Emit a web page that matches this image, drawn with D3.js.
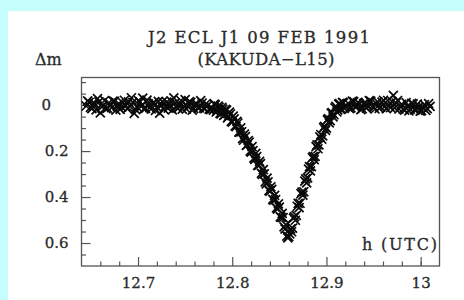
<!DOCTYPE html>
<html>
<head>
<meta charset="utf-8">
<script src="https://cdn.jsdelivr.net/npm/d3@7"></script>
<style>
  html, body { margin: 0; padding: 0; background: #c6fdfd; }
  svg { display: block; }
  text { font-family: "DejaVu Serif", serif; fill: #2a2a2a; stroke: #2a2a2a; stroke-width: 0.3px; }
</style>
</head>
<body>
<div id="chart"></div>
<script>
// light curve (hours UTC, delta magnitude)
var hours = [
  12.645, 12.648, 12.651, 12.654, 12.657, 12.660, 12.663, 12.666, 12.669, 12.672,
  12.675, 12.678, 12.681, 12.684, 12.687, 12.690, 12.693, 12.696, 12.699, 12.702,
  12.705, 12.708, 12.711, 12.714, 12.717, 12.720, 12.723, 12.726, 12.729, 12.732,
  12.735, 12.738, 12.741, 12.744, 12.747, 12.750, 12.753, 12.756, 12.759, 12.762,
  12.765, 12.768, 12.771, 12.774, 12.777,
  12.780, 12.782, 12.784, 12.786, 12.788, 12.790, 12.792, 12.794, 12.796, 12.798,
  12.800, 12.802, 12.804, 12.806, 12.808, 12.810, 12.812, 12.814, 12.816, 12.818,
  12.820, 12.822, 12.824, 12.826, 12.828, 12.830, 12.832, 12.834, 12.836, 12.838,
  12.840, 12.842, 12.844, 12.846, 12.848, 12.850, 12.852, 12.854, 12.856, 12.858,
  12.860, 12.862, 12.864, 12.866, 12.868, 12.870, 12.872, 12.874, 12.876, 12.878,
  12.880, 12.882, 12.884, 12.886, 12.888, 12.890, 12.892, 12.894, 12.896, 12.898,
  12.900, 12.902, 12.904, 12.906, 12.908, 12.910, 12.912, 12.914, 12.916, 12.918,
  12.920,
  12.923, 12.926, 12.929, 12.932, 12.935, 12.938, 12.941, 12.944, 12.947, 12.950,
  12.953, 12.956, 12.959, 12.962, 12.965, 12.968, 12.971, 12.974, 12.977, 12.980,
  12.983, 12.986, 12.989, 12.992, 12.995, 12.998, 13.001, 13.004, 13.007, 13.010
];
var deltaM = [
  0.004, -0.012, 0.015, -0.006, -0.028, 0.034, 0.002, 0.016, -0.010, 0.011,
  -0.016, 0.006, 0.019, -0.009, 0.003, -0.014, -0.032, 0.036, 0.008, -0.013,
  -0.030, 0.014, -0.005, 0.017, -0.011, 0.009, 0.035, -0.015, 0.004, 0.013,
  -0.018, -0.031, 0.010, -0.004, 0.018, -0.024, 0.007, -0.012, 0.015, -0.006,
  0.012, -0.009, 0.016, 0.001, 0.020,
  0.022, -0.001, 0.025, 0.009, 0.038, 0.018, 0.042, 0.022, 0.049, 0.038,
  0.074, 0.060, 0.094, 0.078, 0.118, 0.116, 0.153, 0.137, 0.172, 0.161,
  0.205, 0.198, 0.236, 0.224, 0.262, 0.255, 0.302, 0.299, 0.343, 0.334,
  0.374, 0.367, 0.413, 0.411, 0.453, 0.444, 0.489, 0.490, 0.539, 0.570,
  0.572, 0.539, 0.535, 0.485, 0.480, 0.428, 0.427, 0.379, 0.377, 0.321,
  0.317, 0.268, 0.268, 0.224, 0.223, 0.173, 0.173, 0.128, 0.134, 0.093,
  0.100, 0.059, 0.068, 0.033, 0.042, 0.006, 0.022, -0.006, 0.017, -0.010,
  0.008,
  -0.008, 0.012, -0.015, 0.006, -0.004, 0.016, -0.011, 0.003, -0.017, 0.010,
  -0.006, 0.014, -0.013, 0.005, -0.020, 0.011, -0.042, -0.009, 0.017, -0.003,
  0.022, 0.004, 0.018, -0.005, 0.020, 0.008, 0.024, -0.002, 0.015, 0.006
];
// the in-between exposures
var hours2 = [
  12.6465, 12.6495, 12.6525, 12.6555, 12.6585, 12.6615, 12.6645, 12.6675, 12.6705, 12.6735,
  12.6765, 12.6795, 12.6825, 12.6855, 12.6885, 12.6915, 12.6945, 12.6975, 12.7005, 12.7035,
  12.7065, 12.7095, 12.7125, 12.7155, 12.7185, 12.7215, 12.7245, 12.7275, 12.7305, 12.7335,
  12.7365, 12.7395, 12.7425, 12.7455, 12.7485, 12.7515, 12.7545, 12.7575, 12.7605, 12.7635,
  12.7665, 12.7695, 12.7725, 12.7755, 12.7785,
  12.781, 12.783, 12.785, 12.787, 12.789, 12.791, 12.793, 12.795, 12.797, 12.799,
  12.801, 12.803, 12.805, 12.807, 12.809, 12.811, 12.813, 12.815, 12.817, 12.819,
  12.821, 12.823, 12.825, 12.827, 12.829, 12.831, 12.833, 12.835, 12.837, 12.839,
  12.841, 12.843, 12.845, 12.847, 12.849, 12.851, 12.853, 12.855, 12.857, 12.859,
  12.861, 12.863, 12.865, 12.867, 12.869, 12.871, 12.873, 12.875, 12.877, 12.879,
  12.881, 12.883, 12.885, 12.887, 12.889, 12.891, 12.893, 12.895, 12.897, 12.899,
  12.901, 12.903, 12.905, 12.907, 12.909, 12.911, 12.913, 12.915, 12.917, 12.919,
  12.9245, 12.9275, 12.9305, 12.9335, 12.9365, 12.9395, 12.9425, 12.9455, 12.9485, 12.9515,
  12.9545, 12.9575, 12.9605, 12.9635, 12.9665, 12.9695, 12.9725, 12.9755, 12.9785, 12.9815,
  12.9845, 12.9875, 12.9905, 12.9935, 12.9965, 12.9995, 13.0025, 13.0055, 13.0085
];
var deltaM2 = [
  -0.018, 0.010, -0.003, 0.021, -0.014, 0.007, -0.020, 0.013, 0.002, -0.017,
  0.022, -0.007, 0.009, -0.021, 0.016, 0.005, -0.012, 0.020, -0.019, 0.006,
  0.015, -0.022, 0.011, -0.008, 0.023, -0.016, 0.003, 0.019, -0.013, -0.002,
  0.021, -0.010, 0.014, -0.020, 0.005, 0.017, -0.015, 0.022, -0.004, 0.011,
  -0.019, 0.013, -0.007, 0.018, 0.012,
  -0.004, 0.030, 0.004, 0.036, 0.010, 0.045, 0.019, 0.056, 0.031, 0.071,
  0.048, 0.091, 0.071, 0.118, 0.099, 0.146, 0.126, 0.175, 0.154, 0.200,
  0.181, 0.231, 0.210, 0.262, 0.245, 0.297, 0.281, 0.334, 0.318, 0.372,
  0.356, 0.410, 0.393, 0.447, 0.430, 0.486, 0.471, 0.530, 0.521, 0.578,
  0.560, 0.551, 0.492, 0.501, 0.440, 0.446, 0.385, 0.392, 0.331, 0.338,
  0.279, 0.286, 0.229, 0.237, 0.181, 0.190, 0.138, 0.148, 0.098, 0.110,
  0.064, 0.077, 0.035, 0.051, 0.012, 0.030, -0.004, 0.019, -0.012, 0.014,
  0.015, -0.017, 0.008, -0.012, 0.020, -0.006, 0.013, -0.019, 0.004, 0.017,
  -0.014, 0.009, -0.021, 0.016, 0.002, -0.015, 0.012, -0.020, 0.006, 0.018,
  -0.011, 0.025, -0.008, 0.021, -0.004, 0.026, 0.010, 0.023, -0.006
];

var xMajor = [12.7, 12.8, 12.9, 13];
var xMinor = [12.66, 12.68, 12.72, 12.74, 12.76, 12.78, 12.82, 12.84, 12.86, 12.88,
              12.92, 12.94, 12.96, 12.98, 13.0];
var yMajor = [0, 0.2, 0.4, 0.6];
var yMinor = [-0.1, -0.05, 0.05, 0.1, 0.15, 0.25, 0.3, 0.35, 0.45, 0.5, 0.55, 0.65];

var W = 464, H = 300;
var frame = {left: 81.5, top: 77.5, right: 439.5, bottom: 266};

var points = hours.map(function(h, i) { return [h, deltaM[i]]; })
  .concat(hours2.map(function(h, i) { return [h, deltaM2[i]]; }));

var svg = d3.select("#chart").append("svg")
  .attr("width", W)
  .attr("height", H);

// white panel over the cyan page
svg.append("rect")
  .attr("x", 8).attr("y", 11)
  .attr("width", W - 8).attr("height", H - 11)
  .attr("fill", "#ffffff");

var x = d3.scaleLinear().domain([12.64, 13.02]).range([frame.left, frame.right]);
var y = d3.scaleLinear().domain([-0.12, 0.70]).range([frame.top, frame.bottom]);

// ticks point inward
var gx = svg.append("g").attr("transform", "translate(0," + frame.bottom + ")");
gx.call(d3.axisBottom(x).tickValues(xMinor).tickSize(-4.5).tickFormat(""));
var gx2 = svg.append("g").attr("transform", "translate(0," + frame.bottom + ")");
gx2.call(d3.axisBottom(x).tickValues(xMajor).tickSize(-9).tickPadding(11)
  .tickFormat(function(d) { return d === 13 ? "13" : d3.format(".1f")(d); }));

var gy = svg.append("g").attr("transform", "translate(" + frame.left + ",0)");
gy.call(d3.axisLeft(y).tickValues(yMinor).tickSize(-4.5).tickFormat(""));
var gy2 = svg.append("g").attr("transform", "translate(" + frame.left + ",0)");
gy2.call(d3.axisLeft(y).tickValues(yMajor).tickSize(-9).tickPadding(13)
  .tickFormat(function(d) { return d === 0 ? "0" : d3.format(".1f")(d); }));
gy2.selectAll(".tick text").filter(function(d) { return d === 0; })
  .attr("x", -30.5);

svg.selectAll(".domain").remove();
svg.selectAll(".tick line").attr("stroke", "#555").attr("stroke-width", 1.2);
svg.selectAll(".tick text")
  .style("font-family", "'DejaVu Serif', serif")
  .style("font-size", "15px")
  .attr("fill", "#2a2a2a");

// frame
svg.append("rect")
  .attr("x", frame.left).attr("y", frame.top)
  .attr("width", frame.right - frame.left)
  .attr("height", frame.bottom - frame.top)
  .attr("fill", "none")
  .attr("stroke", "#555")
  .attr("stroke-width", 1.3);

// data crosses
var s = 4.5;
svg.append("g").selectAll("path.pt")
  .data(points)
  .enter().append("path")
  .attr("class", "pt")
  .attr("d", function(p) {
    var cx = x(p[0]), cy = y(p[1]);
    return "M" + (cx - s) + "," + (cy - s) + "L" + (cx + s) + "," + (cy + s) +
           "M" + (cx - s) + "," + (cy + s) + "L" + (cx + s) + "," + (cy - s);
  })
  .attr("stroke", "#0a0a0a")
  .attr("stroke-width", 1.7)
  .attr("fill", "none");

// titles and labels
svg.append("text")
  .attr("x", 259).attr("y", 43)
  .attr("text-anchor", "middle")
  .attr("textLength", 222).attr("lengthAdjust", "spacing")
  .style("font-size", "16.5px")
  .text("J2 ECL J1 09 FEB 1991");

svg.append("text")
  .attr("x", 266).attr("y", 65)
  .attr("text-anchor", "middle")
  .attr("textLength", 137).attr("lengthAdjust", "spacing")
  .style("font-size", "16.5px")
  .text("(KAKUDA\u2212L15)");

svg.append("text")
  .attr("x", 35).attr("y", 65)
  .style("font-size", "16px")
  .text("\u0394m");

svg.append("text")
  .attr("x", 437).attr("y", 250)
  .attr("text-anchor", "end")
  .attr("textLength", 75).attr("lengthAdjust", "spacing")
  .style("font-size", "16px")
  .text("h (UTC)");
</script>
</body>
</html>
